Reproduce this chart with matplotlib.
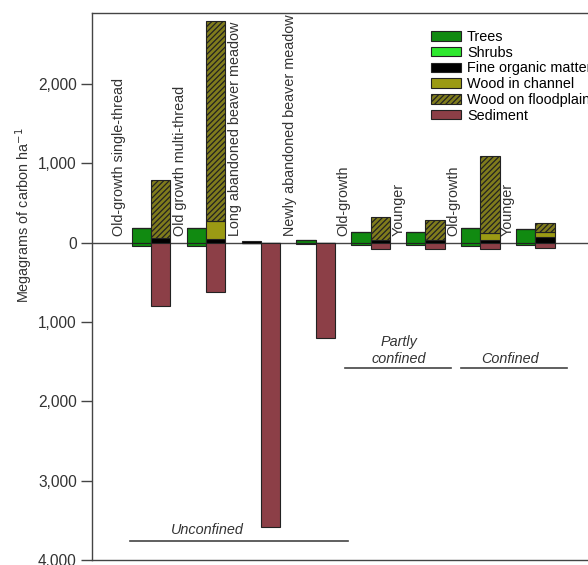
import numpy as np
import matplotlib.pyplot as plt
from matplotlib.ticker import FuncFormatter

plt.rcParams['font.family'] = ['Liberation Sans', 'DejaVu Sans']
plt.rcParams['hatch.linewidth'] = 0.9
plt.rcParams['hatch.color'] = '#111111'

sites = ['Old-growth single-thread', 'Old growth multi-thread',
         'Long abandoned beaver meadow', 'Newly abandoned beaver meadow',
         'Old-growth', 'Younger', 'Old-growth', 'Younger']

# live vegetation (left bar): above ground / below ground
trees_above = [185, 185, 0, 40, 140, 140, 190, 172]
trees_below = [-45, -45, 0, -12, -30, -30, -42, -33]
shrubs = [0, 0, 0, 0, 0, 0, 0, 0]
fine_left = [0, 0, 25, 0, 0, 0, 0, 0]

# dead wood and soil (right bar)
fine_organic = [55, 50, 0, 0, 40, 40, 40, 75]
wood_channel = [0, 230, 0, 0, 0, 0, 83, 63]
wood_floodplain = [735, 2510, 0, 0, 287, 245, 970, 113]
sediment = [-795, -620, -3580, -1200, -80, -80, -80, -65]

groups = ['Unconfined', 'Partly\nconfined', 'Confined']

c_trees = '#118a11'
c_shrubs = '#2ee82e'
c_fine = '#000000'
c_channel = '#9b9a14'
c_flood = '#807c1c'
c_sed = '#8c3f47'
edge = '#222222'
txt = '#333333'

x = np.arange(len(sites))
w = 0.35
xl = x - w / 2
xr = x + w / 2
label_off = [-0.58, -0.47, -0.47, -0.47, -0.49, -0.48, -0.49, -0.5]

fig = plt.figure(figsize=(5.88, 5.65), dpi=100)
ax = fig.add_axes([92 / 588, 5 / 565, 496 / 588, 547.3 / 565])

ax.axhline(0, color='#444444', lw=1.0, zorder=1)

kw = dict(width=w, edgecolor=edge, linewidth=0.8, zorder=3)

# left bars
ax.bar(xl, trees_above, color=c_trees, label='Trees', **kw)
ax.bar(xl, trees_below, color=c_trees, **kw)
b = np.array(trees_above)
ax.bar(xl, shrubs, bottom=b, color=c_shrubs, label='Shrubs', **kw)
b = b + np.array(shrubs)
ax.bar(xl, fine_left, bottom=b, color=c_fine, **kw)

# right bars
ax.bar(xr, fine_organic, color=c_fine, label='Fine organic matter', **kw)
b = np.array(fine_organic)
ax.bar(xr, wood_channel, bottom=b, color=c_channel, label='Wood in channel', **kw)
b = b + np.array(wood_channel)
ax.bar(xr, wood_floodplain, bottom=b, color=c_flood, hatch='//////',
       label='Wood on floodplain', **kw)
ax.bar(xr, sediment, color=c_sed, label='Sediment', **kw)

for xi, off, s in zip(x, label_off, sites):
    ax.text(xi + off, 85, s, rotation=90, ha='center', va='bottom',
            fontsize=10.4, color=txt)

# group brackets
ax.plot([-0.38, 3.59], [-3762, -3762], color='#444444', lw=1.2, clip_on=False)
ax.plot([3.53, 5.46], [-1576, -1576], color='#444444', lw=1.2)
ax.plot([5.64, 7.58], [-1576, -1576], color='#444444', lw=1.2)
ax.text(1.02, -3623, groups[0], ha='center', va='center', style='italic',
        fontsize=10.4, color=txt)
ax.text(4.51, -1358, groups[1], ha='center', va='center', style='italic',
        fontsize=10.4, color=txt, linespacing=1.3)
ax.text(6.54, -1470, groups[2], ha='center', va='center', style='italic',
        fontsize=10.4, color=txt)

ax.set_xlim(-1.073, 7.96)
ax.set_ylim(-4000, 2900)
ax.set_yticks(np.arange(-4000, 2001, 1000))
ax.yaxis.set_major_formatter(FuncFormatter(lambda v, p: f'{abs(int(v)):,}'))
ax.set_xticks([])
ax.tick_params(axis='y', labelsize=11.2, labelcolor=txt, color='#444444',
               length=8, width=1.0, pad=3)
ax.set_ylabel('Megagrams of carbon ha$^{-1}$', fontsize=10.4, color=txt)
ax.yaxis.set_label_coords(-0.115, 0.63)
for sp in ['left', 'top', 'bottom']:
    ax.spines[sp].set_color('#444444')
    ax.spines[sp].set_linewidth(1.0)
ax.spines['right'].set_visible(False)

ax.legend(loc='upper left', bbox_to_anchor=(431 / 588, 1 - 30 / 565),
          bbox_transform=fig.transFigure, frameon=False, fontsize=10.4,
          handlelength=2.07, handleheight=0.63, handletextpad=0.42,
          labelspacing=0.12, borderpad=0, borderaxespad=0)

fig.savefig('out.png', dpi=100)
